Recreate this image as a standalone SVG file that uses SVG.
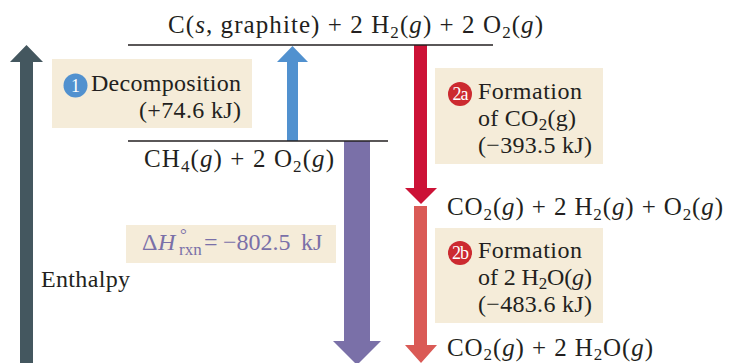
<svg xmlns="http://www.w3.org/2000/svg" width="731" height="363" viewBox="0 0 731 363">
<style>
text{font-family:"Liberation Serif","Times New Roman",serif;font-size:24px;fill:#231f20}
.f{font-size:25px}
.i{font-style:italic}
.sub{font-size:17px}
.box{fill:#f5ecd9}
.lvl{stroke:#231f20;stroke-width:1.5}
.num{font-family:"Liberation Serif",serif;font-size:18px;fill:#ffffff;text-anchor:middle}
.dh{fill:#7a70a8}
</style>
<rect width="731" height="363" fill="#ffffff"/>
<g id="connectors">
  <polygon id="enthalpy-arrow" fill="#44575f" points="20,363 20,62 10,62 26.5,45 43,62 33,62 33,363"/>
  <polygon id="arrow-1" fill="#5191cf" points="287,141 287,62 277,62 292.5,46 308,62 298,62 298,141"/>
  <polygon id="arrow-2a" fill="#cc1236" points="414,45 414,188 405,188 421,204 437,188 427,188 427,45"/>
  <polygon id="arrow-2b" fill="#da5a56" points="414,206 414,345 405,345 421,363 437,345 427,345 427,206"/>
  <polygon id="arrow-total" fill="#7a70a8" points="344,141 344,341 333,341 357,365 381,341 370,341 370,141"/>
</g>
<g id="level-top">
  <line class="lvl" x1="128" y1="45" x2="493" y2="45"/>
  <text class="f" x="168" y="33" textLength="375" lengthAdjust="spacing">C(<tspan class="i">s</tspan>, graphite) + 2 H<tspan class="sub" dy="5">2</tspan><tspan dy="-5">(</tspan><tspan class="i">g</tspan>) + 2 O<tspan class="sub" dy="5">2</tspan><tspan dy="-5">(</tspan><tspan class="i">g</tspan>)</text>
</g>
<g id="level-ch4">
  <line class="lvl" x1="128" y1="141" x2="388" y2="141"/>
  <text class="f" x="144" y="167" textLength="190" lengthAdjust="spacing">CH<tspan class="sub" dy="5">4</tspan><tspan dy="-5">(</tspan><tspan class="i">g</tspan>) + 2 O<tspan class="sub" dy="5">2</tspan><tspan dy="-5">(</tspan><tspan class="i">g</tspan>)</text>
</g>
<g id="level-mid">
  <text class="f" x="447" y="215" textLength="276" lengthAdjust="spacing">CO<tspan class="sub" dy="5">2</tspan><tspan dy="-5">(</tspan><tspan class="i">g</tspan>) + 2 H<tspan class="sub" dy="5">2</tspan><tspan dy="-5">(</tspan><tspan class="i">g</tspan>) + O<tspan class="sub" dy="5">2</tspan><tspan dy="-5">(</tspan><tspan class="i">g</tspan>)</text>
</g>
<g id="level-bottom">
  <text class="f" x="447" y="356" textLength="206" lengthAdjust="spacing">CO<tspan class="sub" dy="4">2</tspan><tspan dy="-4">(</tspan><tspan class="i">g</tspan>) + 2 H<tspan class="sub" dy="4">2</tspan><tspan dy="-4">O(</tspan><tspan class="i">g</tspan>)</text>
</g>
<g id="label-1">
  <rect class="box" x="52" y="59" width="200" height="69"/>
  <circle cx="75.5" cy="85.5" r="12" fill="#5191cf"/>
  <text class="num" x="75.5" y="92">1</text>
  <text x="91" y="91" textLength="150" lengthAdjust="spacing">Decomposition</text>
  <text x="139" y="118" textLength="102" lengthAdjust="spacing">(+74.6 kJ)</text>
</g>
<g id="label-2a">
  <rect class="box" x="435" y="68" width="168" height="96"/>
  <circle cx="460" cy="94" r="12" fill="#cc2a30"/>
  <text class="num" x="460" y="100" letter-spacing="-1">2a</text>
  <text x="478" y="99" textLength="104" lengthAdjust="spacing">Formation</text>
  <text x="478" y="126" textLength="98" lengthAdjust="spacing">of CO<tspan class="sub" dy="4">2</tspan><tspan dy="-4">(g)</tspan></text>
  <text x="478" y="153" textLength="114" lengthAdjust="spacing">(−393.5 kJ)</text>
</g>
<g id="label-2b">
  <rect class="box" x="435" y="228" width="168" height="95"/>
  <circle cx="460" cy="253" r="12" fill="#cc2a30"/>
  <text class="num" x="460" y="259" letter-spacing="-1">2b</text>
  <text x="478" y="258" textLength="104" lengthAdjust="spacing">Formation</text>
  <text x="478" y="285" textLength="114" lengthAdjust="spacing">of 2 H<tspan class="sub" dy="4">2</tspan><tspan dy="-4">O(</tspan><tspan class="i">g</tspan>)</text>
  <text x="478" y="312" textLength="114" lengthAdjust="spacing">(−483.6 kJ)</text>
</g>
<g id="label-total">
  <rect class="box" x="126" y="225" width="210" height="38"/>
  <text class="dh" x="142" y="250">Δ<tspan class="i" x="158">H</tspan><tspan class="sub" x="180" y="240">°</tspan><tspan class="sub" x="179" y="255">rxn</tspan><tspan x="204" y="250">=</tspan><tspan x="223">−802.5</tspan><tspan x="301">kJ</tspan></text>
</g>
<g id="axis-label">
  <text x="41" y="287" textLength="89" lengthAdjust="spacing">Enthalpy</text>
</g>
</svg>
